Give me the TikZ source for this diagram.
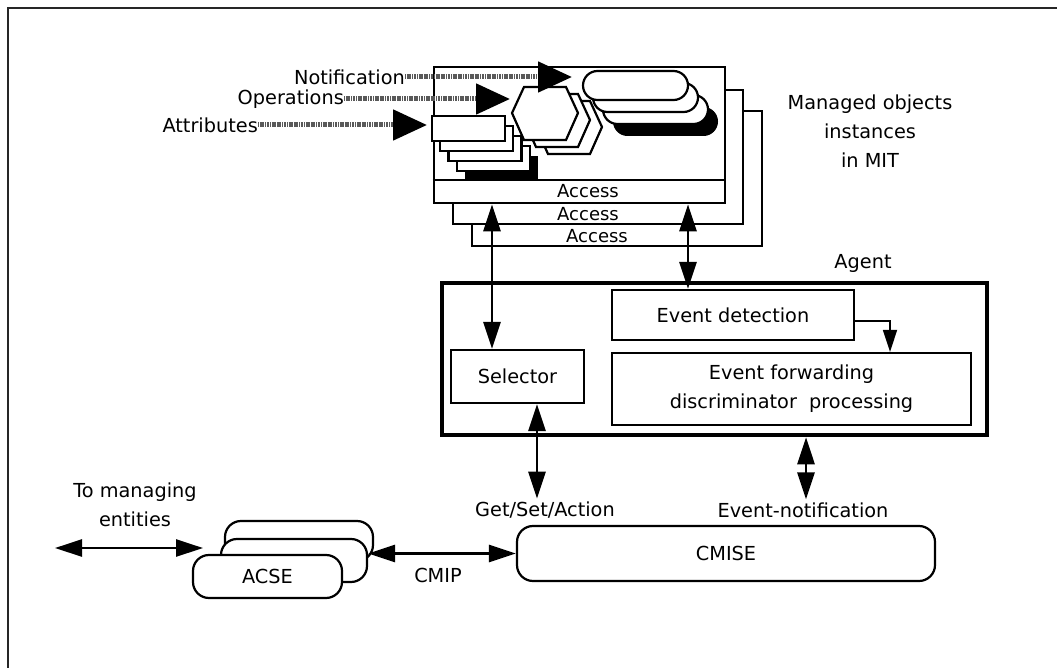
\documentclass[tikz,border=0pt]{standalone}
\usepackage{fontspec}
\setmainfont{DejaVu Sans}
\usetikzlibrary{arrows.meta,calc}

\begin{document}
\begin{tikzpicture}[x=1pt,y=-1pt,
  txt/.style={font=\fontsize{19.3}{29}\selectfont, inner sep=0pt, align=center},
  box/.style={draw, line width=2.2pt, fill=white, inner sep=0pt, font=\fontsize{19.3}{29}\selectfont, align=center},
  mobox/.style={draw, line width=2.6pt, fill=white, inner sep=0pt},
  pill/.style={draw, line width=2.2pt, fill=white, rounded corners=14.5pt},
  both/.style={{Triangle[length=27pt,width=17pt]}-{Triangle[length=27pt,width=17pt]}, line width=2.8pt},
  feed/.style={-{Triangle[length=34pt,width=30pt,color=black]}, draw=black!65, line width=5pt, dash pattern=on 1.2pt off 0.5pt}]
\useasboundingbox (0,0) rectangle (1057,668);

% Frame
\draw[line width=2.4pt, black!85] (8,668) -- (8,8) -- (1057,8);

% Managed object instances
\node[mobox, minimum width=290pt, minimum height=135pt] (mo3) at (617,178.5) {};
\node[mobox, minimum width=290pt, minimum height=134pt] (mo2) at (598,157) {};
\node[mobox, minimum width=291pt, minimum height=136pt] (mo1) at (579.5,135) {};
\draw[line width=2.2pt] (mo1.west |- 0,180) -- (mo1.east |- 0,180);
\node[txt, font=\fontsize{18}{20}\selectfont] (acc1) at (588,191) {Access};
\node[txt, font=\fontsize{18}{20}\selectfont] (acc2) at (588,214) {Access};
\node[txt, font=\fontsize{18}{20}\selectfont] (acc3) at (597,236) {Access};

% Attributes
\fill[shift={(32.8,40)}] (432,116) rectangle (505,141);
\foreach \k in {3,2,1,0}
  \draw[line width=2.2pt, fill=white, shift={(8.2*\k,10*\k)}] (432,116) rectangle (505,141);

% Operations
\foreach \dx/\dy in {24/14,12/7,0/0}
  \draw[line width=2.2pt, fill=white, shift={(\dx,\dy)}] (512,113) -- (524,87) -- (566,87) -- (578,113) -- (566,140) -- (524,140) -- cycle;

% Notifications
\fill[rounded corners=14.5pt] (613,107) rectangle (718,136);
\foreach \d in {20,10,0}
  \draw[pill, shift={(\d,1.2*\d)}] (583,71) rectangle (688,100);

% Inputs
\node[txt, anchor=east] (notif) at (405,77) {Notification};
\node[txt, anchor=east] (oper) at (344,99) {Operations};
\node[txt, anchor=east] (attr) at (258,125) {Attributes};
\coordinate (notiftip) at (572,77);
\coordinate (opertip) at (510,99);
\coordinate (attrtip) at (427,125);
\draw[feed] (notif.east) -- (notiftip);
\draw[feed] (oper.east) -- (opertip);
\draw[feed] (attr.east) -- (attrtip);

\node[txt] (molabel) at (870,131) {Managed objects\\instances\\in MIT};

% Agent
\node[draw, line width=4.5pt, minimum width=545pt, minimum height=152pt] (agent) at (714.5,359) {};
\node[txt] (agentlabel) at (863,263) {Agent};
\node[box, minimum width=242pt, minimum height=50pt] (detect) at (733,315) {Event detection};
\node[box, minimum width=359pt, minimum height=72pt] (forward) at (791.5,389) {Event forwarding\\discriminator~ processing};
\node[box, minimum width=133pt, minimum height=53pt] (sel) at (517.5,376.5) {Selector};

\coordinate (lx) at (492,0);
\coordinate (rx) at (688,0);
\draw[both] (mo1.south -| lx) -- (sel.north -| lx);
\draw[both] (mo1.south -| rx) -- (detect.north -| rx);
\draw[line width=1.8pt, -{Triangle[length=22pt,width=14pt]}] ([yshift=-6pt]detect.east) -| (forward.north -| 890,0);

% CMISE and ACSE
\node[box, rounded corners=16pt, minimum width=418pt, minimum height=55pt] (cmise) at (726,553.5) {CMISE};
\node[txt] (gsa) at (545,510) {Get/Set/Action};
\node[txt] (evn) at (803,510) {Event-notification};
\draw[both] (sel.south -| 537,0) -- ([yshift=3pt]gsa.north -| 537,0);
\draw[both] (agent.south -| 806,0) -- ([yshift=3pt]evn.north -| 806,0);

\node[box, rounded corners=16pt, minimum width=148pt, minimum height=40pt] (acse3) at (299,541) {};
\node[box, rounded corners=16pt, minimum width=146pt, minimum height=43pt] (acse2) at (294,560.5) {};
\node[box, rounded corners=16pt, minimum width=149pt, minimum height=43pt] (acse1) at (267.5,576.5) {ACSE};

\node[txt] (cmip) at (438,575) {CMIP};
\draw[both] (acse2.east |- cmise.west) -- (cmise.west);

\node[txt] (tomng) at (135,505) {To managing\\entities};
\coordinate (tomngl) at (55,548);
\coordinate (tomngr) at (203,548);
\draw[both] (tomngl) -- (tomngr);
\end{tikzpicture}
\end{document}
